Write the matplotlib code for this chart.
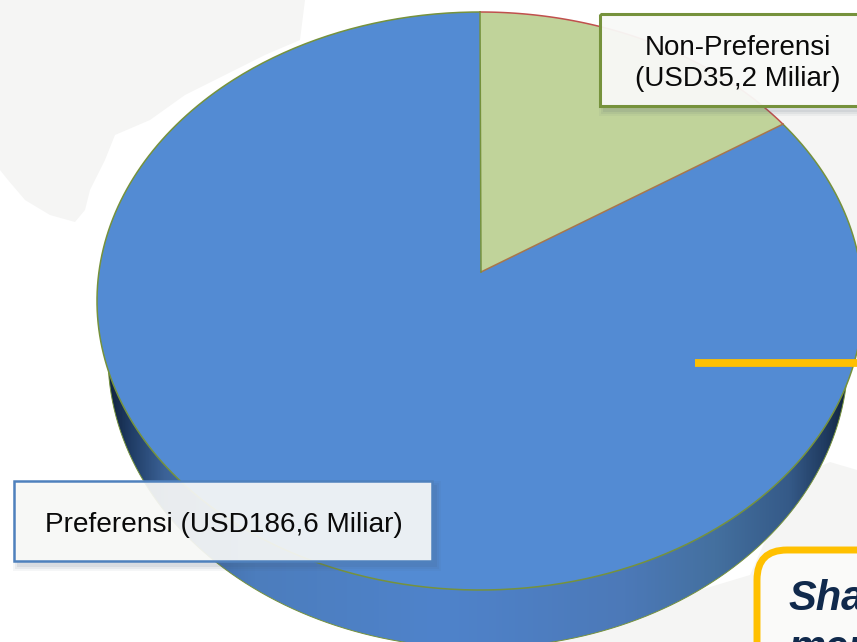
import numpy as np
import matplotlib
matplotlib.use("Agg")
import matplotlib.pyplot as plt
from matplotlib.colors import LinearSegmentedColormap
from matplotlib.patches import FancyBboxPatch, Polygon, Rectangle

plt.rcParams['font.family'] = ['Liberation Sans', 'DejaVu Sans']

# share of trade, USD billion
categories = ["Non-Preferensi", "Preferensi"]
values = [35.2, 186.6]
labels = ["Non-Preferensi\n(USD35,2 Miliar)", "Preferensi (USD186,6 Miliar)"]

BLUE = "#538bd3"
GREEN = "#c0d39a"
EDGE = "#76923c"
RED = "#c0504d"
YELLOW = "#ffc000"
MAP_GRAY = "#f5f5f4"

# pie geometry in pixels (the tilted 3D look of the original)
CX, CY, RX, RY = 480, 301, 383, 289
APEX = (481, 272)
SIDE_CX, SIDE_CY, SIDE_RX, SIDE_RY = 478, 356, 370, 292
PERSPECTIVE = 0.915  # the tilt squeezes the slice angle on screen


def ellipse_pts(t_deg, cx=CX, cy=CY, rx=RX, ry=RY):
    t = np.radians(t_deg)
    return cx + rx * np.sin(t), cy - ry * np.cos(t)


def draw_box(ax, x, y, w, h, edge, lw, alpha):
    # soft shadow, a few stacked rectangles
    for grow, a in [(5, 0.05), (3, 0.07), (1, 0.09)]:
        ax.add_patch(Rectangle((x + 4 - grow, y + 5 - grow), w + 2 * grow, h + 2 * grow,
                               fc="#44546a", ec="none", alpha=a, zorder=5))
    ax.add_patch(Rectangle((x, y), w, h, fc="#fbfbf9", ec="none", alpha=alpha, zorder=6))
    ax.add_patch(Rectangle((x, y), w, h, fc="none", ec=edge, lw=lw, zorder=7))


fig = plt.figure(figsize=(8.57, 6.42), dpi=100)
ax = fig.add_axes([0, 0, 1, 1])

# faint world map behind everything
map_left = [(0, 0), (305, 0), (300, 40), (265, 55), (225, 75), (185, 95), (150, 120), (115, 135),
            (105, 160), (90, 190), (85, 210), (75, 222), (50, 215), (25, 200), (8, 180), (0, 170)]
map_right = [(770, 110), (857, 110), (857, 250), (840, 245), (800, 180)]
map_bottom = [(857, 470), (830, 462), (790, 480), (770, 530), (750, 575), (700, 590), (640, 605), (520, 642), (857, 642)]
for shape in (map_left, map_right, map_bottom):
    ax.add_patch(Polygon(shape, fc=MAP_GRAY, ec="none", zorder=1))

# side of the pie, gradient clipped to the lower ellipse
t = np.linspace(0, 360, 721)
side_x, side_y = ellipse_pts(t, SIDE_CX, SIDE_CY, SIDE_RX, SIDE_RY)
side_clip = Polygon(np.column_stack([side_x, side_y]), transform=ax.transData, fc="none", ec="none")
ax.add_patch(side_clip)
side_cmap = LinearSegmentedColormap.from_list("side", [
    (0.0, "#0f1f38"), (0.03, "#1e3a62"), (0.08, "#3c6398"), (0.2, "#4c7dbd"), (0.45, "#4f83cb"),
    (0.7, "#4c79b8"), (0.82, "#44709f"), (0.92, "#355a88"), (0.97, "#1f3a5f"), (1.0, "#0f2038")])
grad = ax.imshow(np.linspace(0, 1, 256).reshape(1, -1), extent=(105, 850, 660, 300), aspect="auto",
                 cmap=side_cmap, zorder=2)
grad.set_clip_path(side_clip)
ax.plot(side_x[180:540], side_y[180:540], color=EDGE, lw=0.7, zorder=2)

# top face, slices from the values
slice_angle = 360 * values[0] / sum(values) * PERSPECTIVE

t_blue = np.linspace(slice_angle, 360, 500)
bx, by = ellipse_pts(t_blue)
ax.fill(np.r_[APEX[0], bx], np.r_[APEX[1], by], fc=BLUE, ec="none", zorder=3)
ax.plot(bx, by, color=EDGE, lw=1.1, zorder=4)

t_green = np.linspace(0, slice_angle, 120)
gx, gy = ellipse_pts(t_green)
ax.fill(np.r_[APEX[0], gx], np.r_[APEX[1], gy], fc=GREEN, ec="none", zorder=3)
ax.plot(gx, gy, color=RED, lw=1.1, zorder=4)
ax.plot([APEX[0], gx[-1]], [APEX[1], gy[-1]], color="#a9764a", lw=1.1, zorder=4)
ax.plot([APEX[0], gx[0]], [APEX[1], gy[0]], color=EDGE, lw=1.1, zorder=4)

# leader line
ax.plot([695, 857], [363, 363], color=YELLOW, lw=5.6, solid_capstyle="butt", zorder=4)

# data labels
draw_box(ax, 600, 14, 280, 92, EDGE, 2.2, 0.94)
ax.text(738, 86, labels[0], ha="center", va="baseline", fontsize=20, color="#0a0a0a",
        linespacing=1.23, zorder=8)
draw_box(ax, 14, 481, 418, 80, "#4f81bd", 1.8, 0.91)
ax.text(224, 532, labels[1], ha="center", va="baseline", fontsize=20.15, color="#0a0a0a", zorder=8)

# callout cut by the slide edge
ax.add_patch(FancyBboxPatch((757, 550), 200, 200, boxstyle="round,pad=0,rounding_size=30",
                            fc=(1, 1, 1, 0.5), ec=YELLOW, lw=5, zorder=5))
ax.text(788, 610, "Sha", fontsize=30, fontweight="bold", style="italic", color="#10294c", zorder=8)
ax.text(788, 660, "men", fontsize=30, fontweight="bold", style="italic", color="#10294c", zorder=8,
        clip_on=True)

ax.set_xlim(0, 857)
ax.set_ylim(642, 0)
ax.axis("off")

fig.savefig("out.png", dpi=100)
plt.close(fig)
